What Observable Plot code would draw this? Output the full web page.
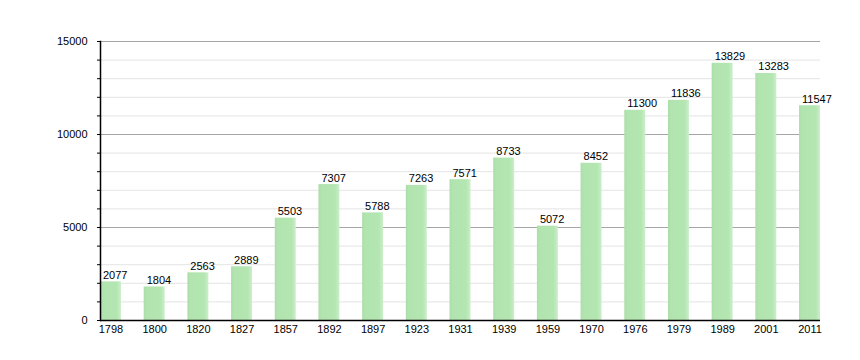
<!DOCTYPE html>
<html><head><meta charset="utf-8">
<script src="https://cdn.jsdelivr.net/npm/d3@7"></script>
<script src="https://cdn.jsdelivr.net/npm/@observablehq/plot@0.6"></script>
<style>body{margin:0;background:#fff;font-family:"Liberation Sans",Arial,sans-serif}</style>
</head><body><div id="chart"></div>
<script>
const years = ["1798","1800","1820","1827","1857","1892","1897","1923","1931","1939","1959","1970","1976","1979","1989","2001","2011"];
const population = [2077,1804,2563,2889,5503,7307,5788,7263,7571,8733,5072,8452,11300,11836,13829,13283,11547];
const yMajorTicks = [0,5000,10000,15000];
const yMinorTicks = [1000,2000,3000,4000,6000,7000,8000,9000,11000,12000,13000,14000];

const data = years.map((y,i)=>({year:y, value:population[i]}));

const chart = Plot.plot({
  width:860, height:360,
  marginLeft:100, marginRight:40, marginTop:41, marginBottom:40,
  style:{fontFamily:"'Liberation Sans', Arial, sans-serif", fontSize:"11px", color:"#000", background:"#fff"},
  x:{type:"band", domain:years, paddingInner:0.52, paddingOuter:0, round:false, label:null},
  y:{domain:[0,15000], label:null},
  marks:[
    Plot.ruleY(yMinorTicks,{stroke:"#e4e4e4"}),
    Plot.ruleY([5000,10000,15000],{stroke:"#a6a6a6"}),
    Plot.barY(data,{x:"year", y:"value", fill:"url(#barGrad)"}),
    Plot.text(data,{x:"year", y:"value", text:d=>String(d.value), textAnchor:"start", lineAnchor:"bottom", dx:-8, dy:-3, fill:"#000", fontSize:11}),
    Plot.axisX({tickSize:0, tickPadding:5, fontSize:11, color:"#000"}),
    Plot.axisY({ticks:yMajorTicks, tickSize:3, tickPadding:10, fontSize:11, tickFormat:d=>String(d), color:"#000"}),
    Plot.axisY({ticks:yMinorTicks, tickSize:3, text:null, color:"#000"}),
    Plot.ruleY([0],{stroke:"#000", strokeWidth:1.5}),
    Plot.frame({anchor:"left", stroke:"#000", strokeWidth:1.5})
  ]
});
const ns = "http://www.w3.org/2000/svg";
const defs = document.createElementNS(ns, "defs");
const grad = document.createElementNS(ns, "linearGradient");
grad.setAttribute("id", "barGrad");
grad.setAttribute("x1", "0"); grad.setAttribute("x2", "1");
grad.setAttribute("y1", "0"); grad.setAttribute("y2", "0");
[["0%","#acdeaa"],["15%","#b2e4b0"],["80%","#b4e6b2"],["100%","#cdeecb"]].forEach(([o,c])=>{
  const s = document.createElementNS(ns, "stop");
  s.setAttribute("offset", o); s.setAttribute("stop-color", c);
  grad.appendChild(s);
});
defs.appendChild(grad);
chart.insertBefore(defs, chart.firstChild);
document.getElementById("chart").append(chart);
</script>
</body></html>
